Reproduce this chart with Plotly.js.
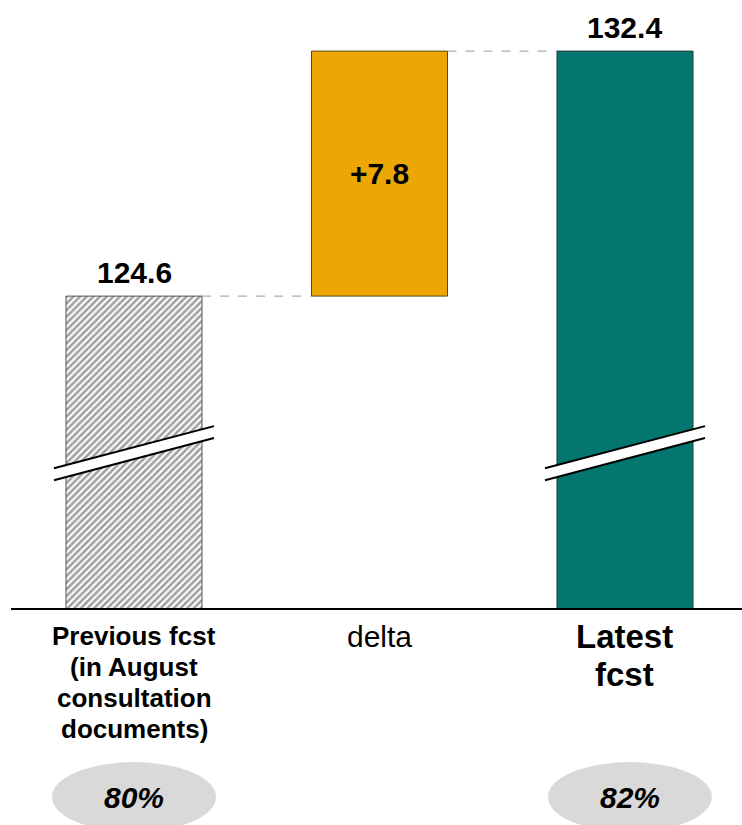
<!DOCTYPE html>
<html>
<head>
<meta charset="utf-8">
<script src="https://cdn.plot.ly/plotly-3.0.1.min.js"></script>
<style>html,body{margin:0;padding:0;background:#fff;}#chart{width:742px;height:825px;}</style>
</head>
<body>
<div id="chart"></div>
<script>
// ---- data ----
var categories = ['Previous fcst', 'delta', 'Latest fcst'];
var categoryLabelLines = [
  ['Previous fcst', '(in August', 'consultation', 'documents)'],
  ['delta'],
  ['Latest', 'fcst']
];
var previousFcst = 124.6;
var deltaValue = 7.8;
var latestFcst = 132.4;
var barHeights = [previousFcst, deltaValue, latestFcst];
var barBases = [0, previousFcst, 0];
var barLabels = [previousFcst.toFixed(1), '+' + deltaValue.toFixed(1), latestFcst.toFixed(1)];
var shareLabels = ['80%', null, '82%'];

// ---- styles ----
var FONT = 'Liberation Sans, Arial, sans-serif';
var colors = ['#ffffff', '#EDA705', '#03766F'];
var lineColors = ['#555555', '#5a4a10', '#1f3a38'];
var xIdx = [0, 1, 2];
var halfW = 0.277;
var PLOT_TOP = 20, PLOT_BOTTOM = 608, PLOT_H = 588;
function pyToPaper(py) { return (PLOT_BOTTOM - py) / PLOT_H; }

var trace = {
  type: 'bar',
  x: xIdx,
  y: barHeights,
  base: barBases,
  width: 2 * halfW,
  marker: {
    color: colors,
    line: {color: lineColors, width: 1},
    pattern: {shape: ['/', '', ''], fgcolor: '#4a4a4a', bgcolor: '#ffffff', size: 4.7, solidity: 0.55, fillmode: 'overlay'}
  },
  text: barLabels,
  texttemplate: ['', '<b>%{text}</b>', ''],
  textposition: ['none', 'inside', 'none'],
  insidetextanchor: 'middle',
  textfont: {family: FONT, size: 30, color: '#000'},
  constraintext: 'none',
  cliponaxis: false,
  hoverinfo: 'skip'
};

var shapes = [];
var annotations = [];

// value labels above full bars
[0, 2].forEach(function (i) {
  annotations.push({xref: 'x', yref: 'y', x: xIdx[i], y: barBases[i] + barHeights[i],
    text: '<b>' + barLabels[i] + '</b>', showarrow: false, yanchor: 'middle', yshift: 24,
    font: {family: FONT, size: 30, color: '#000'}});
});

// dashed connectors
shapes.push({type: 'line', xref: 'x', yref: 'y', x0: 0 + halfW, x1: 1 - halfW, y0: previousFcst, y1: previousFcst,
  line: {color: '#999999', width: 1, dash: 'dash'}});
shapes.push({type: 'line', xref: 'x', yref: 'y', x0: 1 + halfW, x1: 2 - halfW, y0: previousFcst + deltaValue, y1: previousFcst + deltaValue,
  line: {color: '#999999', width: 1, dash: 'dash'}});

// axis-break marks on the two full bars
function brk(c) {
  var xl = c - 0.326, xr = c + 0.326;
  var yl1 = 119.12, yr1 = 120.46, yl2 = 118.74, yr2 = 120.08;
  shapes.push({type: 'path', xref: 'x', yref: 'y', layer: 'above',
    path: 'M ' + xl + ',' + yl1 + ' L ' + xr + ',' + yr1 + ' L ' + xr + ',' + yr2 + ' L ' + xl + ',' + yl2 + ' Z',
    fillcolor: '#ffffff', line: {width: 0}});
  shapes.push({type: 'line', xref: 'x', yref: 'y', layer: 'above', x0: xl, y0: yl1, x1: xr, y1: yr1, line: {color: '#000', width: 2}});
  shapes.push({type: 'line', xref: 'x', yref: 'y', layer: 'above', x0: xl, y0: yl2, x1: xr, y1: yr2, line: {color: '#000', width: 2}});
}
brk(0); brk(2);

// category labels below axis
var labelStyle = [
  {size: 26, bold: true, first: 636, pitch: 31},
  {size: 30, bold: false, first: 637, pitch: 38},
  {size: 33, bold: true, first: 637, pitch: 37.5}
];
categoryLabelLines.forEach(function (lines, i) {
  var st = labelStyle[i];
  lines.forEach(function (ln, k) {
    annotations.push({xref: 'x', yref: 'paper', x: xIdx[i], y: pyToPaper(st.first + k * st.pitch),
      text: st.bold ? '<b>' + ln + '</b>' : ln, showarrow: false, xanchor: 'center', yanchor: 'middle',
      font: {family: FONT, size: st.size, color: '#000'}});
  });
});

// share ellipses
[0, 2].forEach(function (i) {
  var c = i === 0 ? 0 : 2.02;
  shapes.push({type: 'circle', xref: 'x', yref: 'paper', x0: c - 0.334, x1: c + 0.334, y0: pyToPaper(832), y1: pyToPaper(762),
    fillcolor: '#d9d9d9', line: {width: 0}, layer: 'above'});
  annotations.push({xref: 'x', yref: 'paper', x: c, y: pyToPaper(797), text: '<b><i>' + shareLabels[i] + '</i></b>',
    showarrow: false, font: {family: FONT, size: 30, color: '#000'}, xanchor: 'center', yanchor: 'middle'});
});

var layout = {
  width: 742, height: 825,
  margin: {l: 11, r: 0, t: PLOT_TOP, b: 825 - PLOT_BOTTOM},
  paper_bgcolor: '#fff', plot_bgcolor: '#fff',
  showlegend: false,
  xaxis: {
    range: [-0.501, 2.4766],
    tickvals: xIdx, ticktext: categories, showticklabels: false,
    showgrid: false, zeroline: false,
    showline: true, linecolor: '#000', linewidth: 2,
    ticks: '', fixedrange: true
  },
  yaxis: {
    range: [114.67, 133.39],
    visible: false, showgrid: false, zeroline: false, fixedrange: true
  },
  shapes: shapes,
  annotations: annotations
};

Plotly.newPlot('chart', [trace], layout, {displayModeBar: false, staticPlot: true});
</script>
</body>
</html>
